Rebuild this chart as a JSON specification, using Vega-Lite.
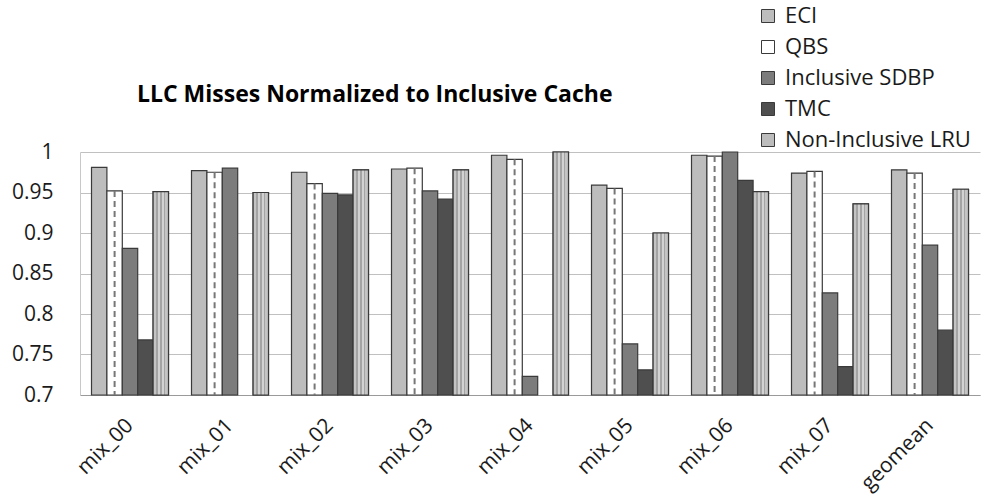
{
  "$schema": "https://vega.github.io/schema/vega-lite/v6.json",
  "width": 900,
  "height": 243,
  "autosize": {"type": "none"},
  "padding": {"left": 80, "top": 152, "right": 4, "bottom": 100},
  "background": "white",
  "title": {
    "text": "LLC Misses Normalized to Inclusive Cache",
    "anchor": "start",
    "frame": "group",
    "dx": 57,
    "offset": -125,
    "baseline": "bottom",
    "font": "Open Sans",
    "fontSize": 23,
    "fontWeight": "bold",
    "color": "#000000"
  },
  "data": {
    "values": [
      {"mix": "mix_00", "scheme": "ECI", "v": 0.981},
      {"mix": "mix_00", "scheme": "QBS", "v": 0.952},
      {"mix": "mix_00", "scheme": "Inclusive SDBP", "v": 0.881},
      {"mix": "mix_00", "scheme": "TMC", "v": 0.768},
      {"mix": "mix_00", "scheme": "Non-Inclusive LRU", "v": 0.951},
      {"mix": "mix_01", "scheme": "ECI", "v": 0.977},
      {"mix": "mix_01", "scheme": "QBS", "v": 0.975},
      {"mix": "mix_01", "scheme": "Inclusive SDBP", "v": 0.98},
      {"mix": "mix_01", "scheme": "Non-Inclusive LRU", "v": 0.95},
      {"mix": "mix_02", "scheme": "ECI", "v": 0.975},
      {"mix": "mix_02", "scheme": "QBS", "v": 0.961},
      {"mix": "mix_02", "scheme": "Inclusive SDBP", "v": 0.949},
      {"mix": "mix_02", "scheme": "TMC", "v": 0.947},
      {"mix": "mix_02", "scheme": "Non-Inclusive LRU", "v": 0.978},
      {"mix": "mix_03", "scheme": "ECI", "v": 0.979},
      {"mix": "mix_03", "scheme": "QBS", "v": 0.98},
      {"mix": "mix_03", "scheme": "Inclusive SDBP", "v": 0.952},
      {"mix": "mix_03", "scheme": "TMC", "v": 0.942},
      {"mix": "mix_03", "scheme": "Non-Inclusive LRU", "v": 0.978},
      {"mix": "mix_04", "scheme": "ECI", "v": 0.996},
      {"mix": "mix_04", "scheme": "QBS", "v": 0.991},
      {"mix": "mix_04", "scheme": "Inclusive SDBP", "v": 0.723},
      {"mix": "mix_04", "scheme": "Non-Inclusive LRU", "v": 1.0},
      {"mix": "mix_05", "scheme": "ECI", "v": 0.959},
      {"mix": "mix_05", "scheme": "QBS", "v": 0.955},
      {"mix": "mix_05", "scheme": "Inclusive SDBP", "v": 0.763},
      {"mix": "mix_05", "scheme": "TMC", "v": 0.731},
      {"mix": "mix_05", "scheme": "Non-Inclusive LRU", "v": 0.9},
      {"mix": "mix_06", "scheme": "ECI", "v": 0.996},
      {"mix": "mix_06", "scheme": "QBS", "v": 0.995},
      {"mix": "mix_06", "scheme": "Inclusive SDBP", "v": 1.0},
      {"mix": "mix_06", "scheme": "TMC", "v": 0.965},
      {"mix": "mix_06", "scheme": "Non-Inclusive LRU", "v": 0.951},
      {"mix": "mix_07", "scheme": "ECI", "v": 0.974},
      {"mix": "mix_07", "scheme": "QBS", "v": 0.976},
      {"mix": "mix_07", "scheme": "Inclusive SDBP", "v": 0.826},
      {"mix": "mix_07", "scheme": "TMC", "v": 0.735},
      {"mix": "mix_07", "scheme": "Non-Inclusive LRU", "v": 0.936},
      {"mix": "geomean", "scheme": "ECI", "v": 0.978},
      {"mix": "geomean", "scheme": "QBS", "v": 0.974},
      {"mix": "geomean", "scheme": "Inclusive SDBP", "v": 0.885},
      {"mix": "geomean", "scheme": "TMC", "v": 0.78},
      {"mix": "geomean", "scheme": "Non-Inclusive LRU", "v": 0.954}
    ]
  },
  "encoding": {
    "x": {
      "field": "mix",
      "type": "nominal",
      "sort": null,
      "scale": {"paddingInner": 0.23, "paddingOuter": 0.115},
      "axis": {
        "title": null,
        "labelAngle": -45,
        "labelAlign": "right",
        "labelBaseline": "middle",
        "labelPadding": 27,
        "labelFont": "Open Sans",
        "labelFontSize": 21,
        "labelColor": "#1a1a1a",
        "ticks": false,
        "domainColor": "#9a9a9a",
        "domainWidth": 1.2,
        "grid": false
      }
    },
    "xOffset": {
      "field": "scheme",
      "type": "nominal",
      "scale": {
        "domain": ["ECI", "QBS", "Inclusive SDBP", "TMC", "Non-Inclusive LRU"],
        "paddingInner": 0,
        "paddingOuter": 0
      }
    },
    "y": {
      "field": "v",
      "type": "quantitative",
      "scale": {"domain": [0.7, 1], "zero": false, "nice": false},
      "axis": {
        "title": null,
        "values": [0.7, 0.75, 0.8, 0.85, 0.9, 0.95, 1],
        "format": "~g",
        "labelFont": "Open Sans",
        "labelFontSize": 21,
        "labelColor": "#1a1a1a",
        "labelPadding": 27,
        "ticks": false,
        "domainColor": "#c8c8c8",
        "gridColor": "#c0c0c0",
        "gridWidth": 1.2
      }
    },
    "y2": {"datum": 0.7}
  },
  "layer": [
    {
      "mark": {"type": "bar", "stroke": "#3a3a3a", "strokeWidth": 1.2},
      "encoding": {
        "fill": {
          "field": "scheme",
          "type": "nominal",
          "scale": {
            "domain": ["ECI", "QBS", "Inclusive SDBP", "TMC", "Non-Inclusive LRU"],
            "range": ["#bdbdbd", "#ffffff", "#7c7c7c", "#4f4f4f", "#bcbcbc"]
          },
          "legend": {
            "title": null,
            "orient": "none",
            "legendX": 677,
            "legendY": -147,
            "symbolType": "square",
            "symbolSize": 169,
            "symbolStrokeColor": "#3a3a3a",
            "symbolStrokeWidth": 1,
            "labelFont": "Open Sans",
            "labelFontSize": 22,
            "labelColor": "#1a1a1a",
            "labelOffset": 6,
            "rowPadding": 9,
            "labelLimit": 300
          }
        }
      }
    },
    {
      "transform": [{"filter": "datum.scheme === 'Non-Inclusive LRU'"}],
      "mark": {
        "type": "bar",
        "stroke": "#3a3a3a",
        "strokeWidth": 1.2,
        "fill": {
          "gradient": "linear",
          "x1": 0, "y1": 0, "x2": 1, "y2": 0,
          "stops": [
            {"offset": 0, "color": "#c4c4c4"},
            {"offset": 0.2, "color": "#c4c4c4"},
            {"offset": 0.2, "color": "#a4a4a4"},
            {"offset": 0.3, "color": "#a4a4a4"},
            {"offset": 0.3, "color": "#d2d2d2"},
            {"offset": 0.45, "color": "#d2d2d2"},
            {"offset": 0.45, "color": "#a4a4a4"},
            {"offset": 0.55, "color": "#a4a4a4"},
            {"offset": 0.55, "color": "#d2d2d2"},
            {"offset": 0.7, "color": "#d2d2d2"},
            {"offset": 0.7, "color": "#a4a4a4"},
            {"offset": 0.8, "color": "#a4a4a4"},
            {"offset": 0.8, "color": "#c4c4c4"},
            {"offset": 1, "color": "#c4c4c4"}
          ]
        }
      },
      "encoding": {}
    },
    {
      "transform": [{"filter": "datum.scheme === 'QBS'"}],
      "mark": {"type": "rule", "stroke": "#777777", "strokeWidth": 2, "strokeDash": [6, 4]},
      "encoding": {}
    }
  ],
  "config": {
    "view": {"stroke": null},
    "font": "Open Sans"
  }
}
